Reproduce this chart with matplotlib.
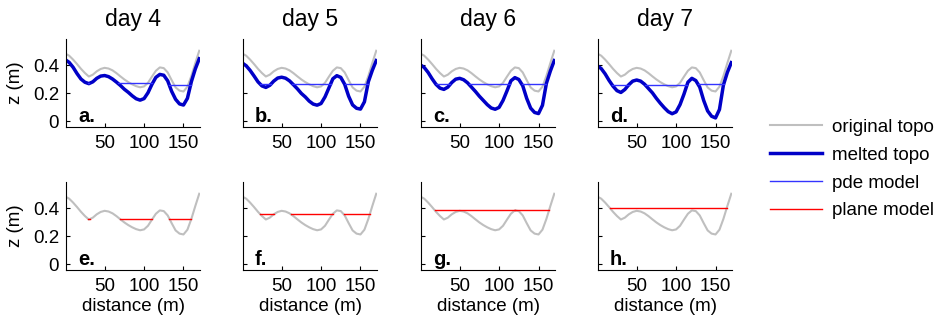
import numpy as np
import matplotlib
matplotlib.use('Agg')
import matplotlib.pyplot as plt
from matplotlib.lines import Line2D

plt.rcParams['font.family'] = ['Liberation Sans', 'DejaVu Sans']

# distance along the transect (m)
distance = np.arange(0, 175, 5)

# original topography (m)
orig_topo = [0.485, 0.470, 0.442, 0.410, 0.376, 0.346, 0.321, 0.334, 0.358, 0.375,
             0.383, 0.378, 0.365, 0.345, 0.322, 0.300, 0.281, 0.265, 0.252, 0.244,
             0.250, 0.276, 0.320, 0.362, 0.386, 0.381, 0.350, 0.295, 0.243, 0.220,
             0.214, 0.248, 0.325, 0.417, 0.505]

# melted topography for days 4-7 (m)
melt_day4 = [0.442, 0.422, 0.387, 0.342, 0.303, 0.280, 0.270, 0.283, 0.308, 0.324,
             0.328, 0.320, 0.303, 0.281, 0.257, 0.230, 0.208, 0.183, 0.162, 0.152,
             0.163, 0.205, 0.265, 0.315, 0.336, 0.330, 0.290, 0.215, 0.158, 0.125,
             0.117, 0.165, 0.284, 0.375, 0.448]
melt_day5 = [0.418, 0.398, 0.365, 0.325, 0.283, 0.254, 0.243, 0.258, 0.288, 0.310,
             0.316, 0.309, 0.290, 0.262, 0.233, 0.200, 0.175, 0.145, 0.124, 0.116,
             0.128, 0.175, 0.240, 0.305, 0.327, 0.315, 0.265, 0.180, 0.118, 0.094,
             0.088, 0.140, 0.284, 0.365, 0.435]
melt_day6 = [0.405, 0.386, 0.350, 0.305, 0.265, 0.238, 0.229, 0.245, 0.278, 0.302,
             0.308, 0.298, 0.276, 0.245, 0.214, 0.180, 0.150, 0.120, 0.096, 0.087,
             0.100, 0.150, 0.218, 0.290, 0.313, 0.300, 0.255, 0.165, 0.095, 0.064,
             0.056, 0.115, 0.272, 0.360, 0.435]
melt_day7 = [0.398, 0.378, 0.340, 0.293, 0.252, 0.220, 0.207, 0.228, 0.262, 0.288,
             0.296, 0.288, 0.266, 0.235, 0.204, 0.165, 0.130, 0.098, 0.070, 0.055,
             0.068, 0.120, 0.195, 0.280, 0.308, 0.292, 0.245, 0.150, 0.075, 0.037,
             0.025, 0.085, 0.260, 0.350, 0.420]

days = [4, 5, 6, 7]
melted = [melt_day4, melt_day5, melt_day6, melt_day7]
# pde model water level: (left ponds, right pond), split at the 120 m ridge
pde_levels = [(0.272, 0.262), (0.270, 0.265), (0.266, 0.265), (0.263, 0.265)]
pond_split = 120
# plane model water level
plane_levels = [0.326, 0.359, 0.386, 0.400]

top_labels = ['a.', 'b.', 'c.', 'd.']
bottom_labels = ['e.', 'f.', 'g.', 'h.']


def water_segments(x, ground, level):
    # pieces of a flat water surface lying above the ground, with crossings found linearly
    x = np.asarray(x, float)
    g = np.asarray(ground, float) - level
    segs = []
    start = None
    for i in range(len(x)):
        wet = g[i] < 0
        if wet and start is None:
            if i == 0:
                start = x[0]
            else:
                start = x[i - 1] + (x[i] - x[i - 1]) * g[i - 1] / (g[i - 1] - g[i])
        if not wet and start is not None:
            end = x[i - 1] + (x[i] - x[i - 1]) * g[i - 1] / (g[i - 1] - g[i])
            segs.append((start, end))
            start = None
    if start is not None:
        segs.append((start, x[-1]))
    return segs


gray = (0.75, 0.75, 0.75)
dark_blue = (0.0, 0.0, 0.78)
pde_blue = (0.2, 0.2, 1.0)

fig = plt.figure(figsize=(9.4, 3.24), dpi=100)
lefts = [0.0702, 0.2585, 0.4479, 0.6362]
w, h = 0.1426, 0.272
rows_bottom = [0.608, 0.1667]

fs = 13.5


def style_axis(ax, col, bottom_row):
    ax.set_xlim(1, 171)
    ax.set_ylim(-0.04, 0.59)
    ax.spines['top'].set_visible(False)
    ax.spines['right'].set_visible(False)
    ax.set_xticks([50, 100, 150])
    ax.set_yticks([0, 0.2, 0.4])
    ax.tick_params(direction='in', length=3, labelsize=fs, top=False, right=False)
    ax.tick_params(axis='x', pad=6)
    ax.tick_params(axis='y', pad=5)
    if col == 0:
        ax.set_yticklabels(['0', '0.2', '0.4'])
        ax.set_ylabel('z (m)', fontsize=fs, labelpad=6)
    else:
        ax.set_yticklabels([])
    if bottom_row:
        ax.set_xlabel('distance (m)', fontsize=fs, labelpad=2)


for col in range(4):
    # top row: melted topography and pde model
    ax = fig.add_axes([lefts[col], rows_bottom[0], w, h])
    ax.plot(distance, orig_topo, color=gray, lw=1.5)
    ax.plot(distance, melted[col], color=dark_blue, lw=2.5)
    left_lvl, right_lvl = pde_levels[col]
    d = np.asarray(distance)
    m = np.asarray(melted[col])
    for lvl, sel in [(left_lvl, d <= pond_split), (right_lvl, d >= pond_split)]:
        for x0, x1 in water_segments(d[sel], m[sel], lvl):
            ax.plot([x0, x1], [lvl, lvl], color=pde_blue, lw=1.0)
    ax.set_title('day %d' % days[col], fontsize=16.5, pad=9)
    ax.text(0.09, 0.06, top_labels[col], transform=ax.transAxes,
            fontsize=14.5, fontweight='bold', va='baseline', ha='left')
    style_axis(ax, col, False)

    # bottom row: plane model
    ax = fig.add_axes([lefts[col], rows_bottom[1], w, h])
    ax.plot(distance, orig_topo, color=gray, lw=1.5)
    lvl = plane_levels[col]
    for x0, x1 in water_segments(distance, orig_topo, lvl):
        ax.plot([x0, x1], [lvl, lvl], color='red', lw=1.0)
    ax.text(0.09, 0.06, bottom_labels[col], transform=ax.transAxes,
            fontsize=14.5, fontweight='bold', va='baseline', ha='left')
    style_axis(ax, col, True)

handles = [Line2D([], [], color=gray, lw=1.5),
           Line2D([], [], color=dark_blue, lw=2.5),
           Line2D([], [], color=pde_blue, lw=1.0),
           Line2D([], [], color='red', lw=1.0)]
labels = ['original topo', 'melted topo', 'pde model', 'plane model']
fig.legend(handles, labels, loc='upper left', bbox_to_anchor=(0.819, 0.633),
           frameon=False, fontsize=fs, handlelength=2.77, handletextpad=0.53,
           labelspacing=0.57, borderaxespad=0, borderpad=0)

fig.savefig('out.png', dpi=100)
